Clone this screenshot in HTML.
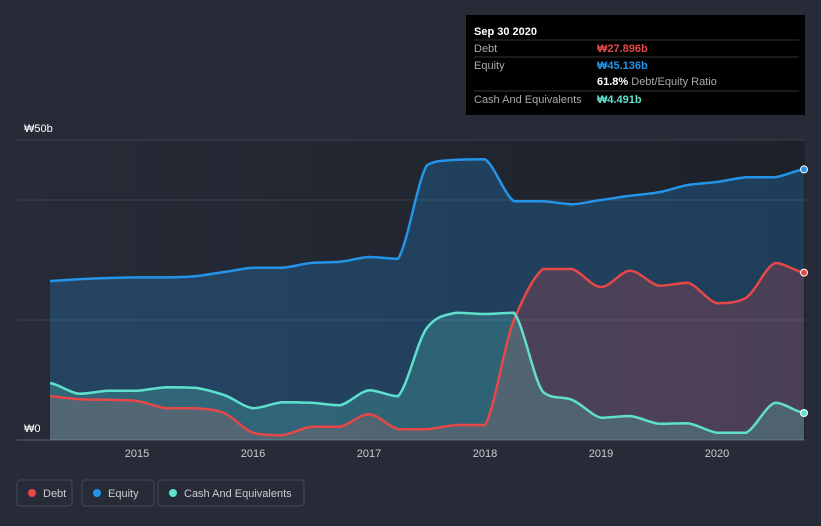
<!DOCTYPE html>
<html><head><meta charset="utf-8"><style>
body{margin:0;background:#262b37;font-family:"Liberation Sans","Noto Sans CJK KR",sans-serif;}
#wrap{position:relative;width:821px;height:526px;overflow:hidden;}
svg text{font-family:"Liberation Sans","Noto Sans CJK KR",sans-serif;}
</style></head><body>
<div id="wrap">
<svg id="chart" width="821" height="526">
<defs>
<linearGradient id="bgG" x1="0" x2="1" y1="0" y2="0"><stop offset="0" stop-color="#262b37"/><stop offset="1" stop-color="#1d212a"/></linearGradient>
</defs>
<rect x="17" y="140" width="788" height="300" fill="url(#bgG)"/>
<g id="grid"></g>
<g id="areas"></g>
<g id="lines"></g>
<g id="xaxis"></g>
<text x="24" y="132" fill="#fff" font-size="11">₩50b</text>
<text x="24" y="432" fill="#fff" font-size="11">₩0</text>
<g>
<rect x="466" y="15" width="339" height="100" fill="#000"/>
<text x="474" y="35" fill="#fff" font-size="11" font-weight="bold">Sep 30 2020</text>
<line x1="474" y1="40" x2="799" y2="40" stroke="#333"/>
<text x="474" y="52" fill="#aaa" font-size="11">Debt</text>
<text x="597" y="52" fill="#e64848" font-size="11" font-weight="bold">₩27.896b</text>
<line x1="474" y1="57" x2="799" y2="57" stroke="#333"/>
<text x="474" y="69" fill="#aaa" font-size="11">Equity</text>
<text x="597" y="69" fill="#2394e8" font-size="11" font-weight="bold">₩45.136b</text>
<text x="597" y="85" fill="#fff" font-size="11" font-weight="bold">61.8% <tspan fill="#aaa" font-weight="normal">Debt/Equity Ratio</tspan></text>
<line x1="474" y1="91" x2="799" y2="91" stroke="#333"/>
<text x="474" y="103" fill="#aaa" font-size="11">Cash And Equivalents</text>
<text x="597" y="103" fill="#5ee0cc" font-size="11" font-weight="bold">₩4.491b</text>
</g>
<g>
<rect x="17" y="480" width="55" height="26" rx="3" fill="none" stroke="#444a57"/>
<circle cx="32" cy="493" r="4" fill="#e64848"/><text x="43" y="497" fill="#ccc" font-size="11">Debt</text>
<rect x="82" y="480" width="72" height="26" rx="3" fill="none" stroke="#444a57"/>
<circle cx="97" cy="493" r="4" fill="#2394e8"/><text x="108" y="497" fill="#ccc" font-size="11">Equity</text>
<rect x="158" y="480" width="146" height="26" rx="3" fill="none" stroke="#444a57"/>
<circle cx="173" cy="493" r="4" fill="#5ee0cc"/><text x="184" y="497" fill="#ccc" font-size="11">Cash And Equivalents</text>
</g>
</svg>
</div>
<script>
const startYear = 2014.25;
const yearTicks = [2015, 2016, 2017, 2018, 2019, 2020];
const gridValues = [0, 20, 40, 50];
const equity = [26.5,26.8,27,27.1,27.1,27.3,28,28.7,28.7,29.5,29.7,30.5,30.2,45.8,46.7,46.8,39.8,39.8,39.3,40,40.7,41.3,42.5,43,43.8,43.8,45.1];
const debt = [7.3,6.8,6.7,6.5,5.3,5.3,4.5,1.2,0.8,2.2,2.2,4.3,1.8,1.8,2.5,2.5,20,28.5,28.5,25.5,28.2,25.7,26.2,22.8,23.7,29.5,27.9];
const cash = [9.5,7.7,8.2,8.2,8.8,8.7,7.5,5.3,6.3,6.2,5.8,8.3,7.3,18.7,21.2,21,21.2,8,6.7,3.7,4,2.7,2.8,1.2,1.2,6.2,4.5];
const NS='http://www.w3.org/2000/svg';
function xs(t){return 137+(t-2015)*116;}
function ys(v){return 440-v*6;}
function pts(arr){return arr.map((v,i)=>[xs(startYear+i*0.25),ys(v)]);}
function smooth(p){
  let d='M'+p[0][0]+','+p[0][1];
  for(let i=0;i<p.length-1;i++){
    const p0=p[Math.max(0,i-1)],p1=p[i],p2=p[i+1],p3=p[Math.min(p.length-1,i+2)];
    const t=0.15;
    let c1y=p1[1]+(p2[1]-p0[1])*t, c2y=p2[1]-(p3[1]-p1[1])*t;
    const lo=Math.min(p1[1],p2[1]),hi=Math.max(p1[1],p2[1]);
    c1y=Math.min(hi,Math.max(lo,c1y)); c2y=Math.min(hi,Math.max(lo,c2y));
    d+=' C'+(p1[0]+(p2[0]-p1[0])/3)+','+c1y+' '+(p2[0]-(p2[0]-p1[0])/3)+','+c2y+' '+p2[0]+','+p2[1];
  }
  return d;
}
const grid=document.getElementById('grid');
gridValues.forEach(v=>{
  const l=document.createElementNS(NS,'line');
  l.setAttribute('x1',17);l.setAttribute('x2',805);l.setAttribute('y1',ys(v));l.setAttribute('y2',ys(v));
  l.setAttribute('stroke',v===0?'#5a606c':'#3a404c');
  
  
  grid.appendChild(l);
});
const xa=document.getElementById('xaxis');
yearTicks.forEach(y=>{
  const t=document.createElementNS(NS,'text');
  t.setAttribute('x',xs(y));t.setAttribute('y',457);t.setAttribute('fill','#ccc');
  t.setAttribute('font-size','11');t.setAttribute('text-anchor','middle');
  t.textContent=y;
  
  
  xa.appendChild(t);
});
const series=[[equity,'#2394e8','rgba(35,148,232,0.25)','equity'],[debt,'#e64848','rgba(230,72,72,0.22)','debt'],[cash,'#5ee0cc','rgba(94,224,204,0.22)','cash']];
const ga=document.getElementById('areas'),gl=document.getElementById('lines');
series.forEach(([arr,c,f,n])=>{
  const p=pts(arr);const d=smooth(p);
  const a=document.createElementNS(NS,'path');
  a.setAttribute('d',d+' L'+p[p.length-1][0]+','+ys(0)+' L'+p[0][0]+','+ys(0)+' Z');
  a.setAttribute('fill',f);
  
  
  ga.appendChild(a);
  const l=document.createElementNS(NS,'path');
  l.setAttribute('d',d);l.setAttribute('fill','none');l.setAttribute('stroke',c);l.setAttribute('stroke-width','2.5');
  
  
  gl.appendChild(l);
  const e=p[p.length-1];
  const dot=document.createElementNS(NS,'circle');
  dot.setAttribute('cx',e[0]);dot.setAttribute('cy',e[1]);dot.setAttribute('r',3.5);
  dot.setAttribute('fill',c);dot.setAttribute('stroke','#fff');dot.setAttribute('stroke-width','1');
  
  
  gl.appendChild(dot);
});
</script>
</body></html>
